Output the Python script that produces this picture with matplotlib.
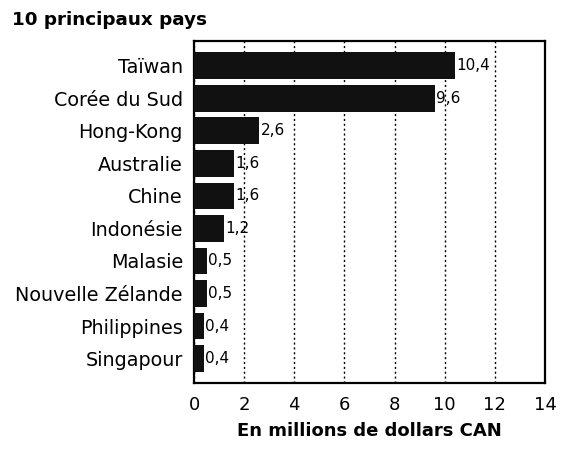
import matplotlib
matplotlib.use("Agg")
import matplotlib.pyplot as plt

countries = ["Taïwan", "Corée du Sud", "Hong-Kong", "Australie", "Chine",
             "Indonésie", "Malasie", "Nouvelle Zélande", "Philippines", "Singapour"]
values = [10.4, 9.6, 2.6, 1.6, 1.6, 1.2, 0.5, 0.5, 0.4, 0.4]
value_labels = ["10,4", "9,6", "2,6", "1,6", "1,6", "1,2", "0,5", "0,5", "0,4", "0,4"]
xticks = [0, 2, 4, 6, 8, 10, 12, 14]

plt.rcParams["font.family"] = ["DejaVu Sans"]

fig = plt.figure(figsize=(5.88, 4.55), dpi=100)
ax = fig.add_axes([194 / 588, 1 - 383 / 455, (545 - 194) / 588, (383 - 41) / 455])

pos = list(range(len(countries)))
ax.barh(pos, values, height=0.82, color="#111111", zorder=3)

for y, v, lab in zip(pos, values, value_labels):
    ax.text(v + 0.05, y, lab, va="center", ha="left", fontsize=11, color="black", zorder=4)

ax.set_xlim(0, 14)
ax.set_ylim(len(countries) - 0.25, -0.76)
ax.set_yticks(pos)
ax.set_yticklabels(countries, fontsize=13.8)
ax.set_xticks(xticks)
ax.set_xticklabels([str(t) for t in xticks], fontsize=13)
ax.tick_params(axis="both", length=0)
ax.tick_params(axis="y", pad=8)
ax.tick_params(axis="x", pad=9)

ax.grid(axis="x", linestyle=(0, (1.5, 2)), color="black", linewidth=1.0, zorder=1)
for s in ax.spines.values():
    s.set_linewidth(1.6)
    s.set_color("black")

ax.set_xlabel("En millions de dollars CAN", fontsize=13, fontweight="bold", labelpad=6)
fig.text(12 / 588, 1 - 20 / 455, "10 principaux pays", fontsize=13.2, fontweight="bold",
         va="center", ha="left")

fig.savefig("out.png", dpi=100)
